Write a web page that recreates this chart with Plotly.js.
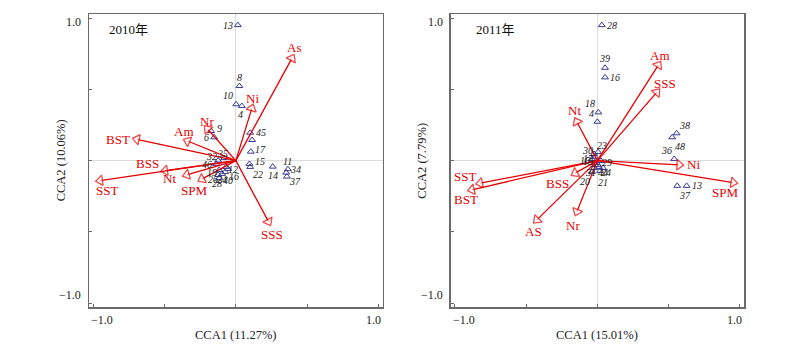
<!DOCTYPE html>
<html><head><meta charset="utf-8">
<script src="https://cdn.plot.ly/plotly-3.0.1.min.js"></script>
<style>html,body{margin:0;padding:0;background:#fff}</style>
</head><body><div id="chart" style="width:800px;height:348px"></div>
<script>
// ---------- DATA ----------
// 2010 environmental vectors (CCA1, CCA2)
const env2010Names = ['As','Ni','Nr','Am','BST','BSS','Nt','SPM','SST','SSS'];
const env2010X = [0.393, 0.112, -0.199, -0.339, -0.694, -0.496, -0.344, -0.238, -0.952, 0.229];
const env2010Y = [0.718, 0.367, 0.222, 0.138, 0.150, -0.070, -0.100, -0.130, -0.140, -0.428];
// 2010 sites
const site2010Names = ['13','8','10','4','9','6','45','','17','15','22','14','11','34','37','32','35','46','19','12','26','24','40','16','28'];
const site2010X = [0.014, 0.025, 0.002, 0.042, -0.173, -0.152, 0.100, 0.114, 0.105, 0.095, 0.100, 0.259, 0.365, 0.353, 0.358, -0.124, -0.082, -0.138, -0.117, -0.068, -0.124, -0.096, -0.075, -0.054, -0.117];
const site2010Y = [0.952, 0.524, 0.396, 0.384, 0.208, 0.164, 0.196, 0.145, 0.063, -0.023, -0.044, -0.042, -0.060, -0.084, -0.112, 0.001, 0.019, -0.023, -0.065, -0.044, -0.100, -0.093, -0.079, -0.058, -0.121];
// 2011 environmental vectors
const env2011Names = ['Am','SSS','Nt','Ni','SPM','SST','BST','BSS','AS','Nr'];
const env2011X = [0.428, 0.417, -0.144, 0.575, 0.954, -0.823, -0.881, -0.156, -0.425, -0.144];
const env2011Y = [0.671, 0.480, 0.273, -0.030, -0.154, -0.158, -0.205, -0.088, -0.416, -0.358];
// 2011 sites
const site2011Names = ['28','39','16','18','4','38','48','36','13','37','23','30','29','20','21','31','44','24','15','17','19','5'];
const site2011X = [0.031, 0.054, 0.054, 0.007, 0.000, 0.557, 0.526, 0.540, 0.627, 0.561, 0.005, -0.023, 0.026, -0.037, 0.019, -0.023, 0.012, 0.040, -0.037, -0.016, -0.016, 0.005];
const site2011Y = [0.952, 0.652, 0.585, 0.339, 0.273, 0.192, 0.164, 0.012, -0.177, -0.177, 0.061, 0.047, -0.002, -0.079, -0.072, -0.051, -0.044, -0.051, 0.012, 0.026, -0.016, -0.030];
// text
const panelTitles = ['2010年', '2011年'];
const xTitles = ['CCA1 (11.27%)', 'CCA1 (15.01%)'];
const yTitles = ['CCA2 (10.06%)', 'CCA2 (7.79%)'];
const tickText = ['\u22121.0', '1.0'];

// ---------- STYLE (label offsets in px: [dx, dy down]) ----------
const envShift2010 = [[2,-11],[1,-10],[0,-8],[-4,-10],[-19,0],[-18,-7],[-17,4],[-8,11],[7,10],[3,13]];
const envShift2011 = [[2,-10],[8,-9],[-2,-11],[14,0],[-8,10],[-15,-7],[-6,10],[-18,10],[-3,12],[-4,14]];
const siteShift2010 = [[-10,0],[0,-9],[-8,-9],[-1,9],[8,-3],[-8,0],[11,0],[0,0],[10,-2],[11,-2],[8,8],[0,9],[0,-8],[9,-3],[8,5],[-7,-4],[-2,-4],[-9,1],[-7,3],[7,3],[-5,5],[0,6],[3,9],[6,8],[-2,6]];
const siteShift2011 = [[10,0],[-1,-9],[10,0],[-8,-9],[-6,-8],[8,-8],[8,9],[-8,-8],[10,0],[8,10],[4,-6],[-7,-3],[6,2],[-7,10],[3,12],[-4,5],[4,6],[3,5],[-7,2],[-7,2],[-7,-1],[-6,5]];

const RED = '#e60000';
const NAVY = '#3a3a96';
const SERIF = 'Liberation Serif, Times New Roman, serif';
const CJK = 'Liberation Serif, Noto Sans CJK SC, serif';

const traces = [];
const annotations = [];

function addPanel(xa, ya, sNames, sX, sY, sShift, eNames, eX, eY, eShift) {
  traces.push({
    type: 'scatter', mode: 'markers', x: sX, y: sY, xaxis: xa, yaxis: ya,
    marker: {symbol: 'triangle-up-open', size: 6, color: NAVY, line: {width: 1, color: NAVY}},
    hoverinfo: 'skip'
  });
  sNames.forEach((n, i) => {
    if (!n) return;
    annotations.push({xref: xa, yref: ya, x: sX[i], y: sY[i], text: '<i>' + n + '</i>', showarrow: false,
      xshift: sShift[i][0], yshift: -sShift[i][1],
      font: {family: SERIF, size: 10, color: '#222'}, xanchor: 'center', yanchor: 'middle'});
  });
  eNames.forEach((n, i) => {
    traces.push({
      type: 'scatter', mode: 'lines+markers', x: [0, eX[i]], y: [0, eY[i]], xaxis: xa, yaxis: ya,
      line: {color: RED, width: 1.3},
      marker: {symbol: 'triangle-up', size: [0, 9], color: 'white', angleref: 'previous',
               line: {color: RED, width: 1.3}},
      hoverinfo: 'skip'
    });
    annotations.push({xref: xa, yref: ya, x: eX[i], y: eY[i], text: n, showarrow: false,
      xshift: eShift[i][0], yshift: -eShift[i][1],
      font: {family: SERIF, size: 13, color: RED}, xanchor: 'center', yanchor: 'middle'});
  });
}

addPanel('x', 'y', site2010Names, site2010X, site2010Y, siteShift2010, env2010Names, env2010X, env2010Y, envShift2010);
addPanel('x2', 'y2', site2011Names, site2011X, site2011Y, siteShift2011, env2011Names, env2011X, env2011Y, envShift2011);

const RANGE = [-1.03, 1.03];
const W = 800, H = 348;
const px = v => v / W, py = v => (H - v) / H;
const panels = [
  {xa: 'x', ya: 'y', left: 89, right: 382.7, titleX: 106.7, yTitleX: 60.7},
  {xa: 'x2', ya: 'y2', left: 450.7, right: 744, titleX: 474.3, yTitleX: 422}
];
const TOPPX = 14, BOTPX = 307.3;

function axis(domain, anchor) {
  return {domain: domain, anchor: anchor, range: RANGE, showgrid: false,
    zeroline: true, zerolinecolor: '#dcdcdc', zerolinewidth: 1,
    showline: true, mirror: true, linecolor: '#6a6a6a', linewidth: 1.5,
    ticks: 'inside', ticklen: 3, tickcolor: '#6a6a6a', tick0: 0, dtick: 0.5,
    showticklabels: false, fixedrange: true};
}

panels.forEach((p, k) => {
  const tf = {family: SERIF, size: 12, color: '#222'};
  annotations.push({xref: 'paper', yref: 'paper', x: px(p.left), y: py(320), text: tickText[0], showarrow: false, xanchor: 'left', yanchor: 'middle', font: tf});
  annotations.push({xref: 'paper', yref: 'paper', x: px(p.right), y: py(320), text: tickText[1], showarrow: false, xanchor: 'right', yanchor: 'middle', font: tf});
  annotations.push({xref: 'paper', yref: 'paper', x: px(p.left - 6), y: py(21.7), text: tickText[1], showarrow: false, xanchor: 'right', yanchor: 'middle', font: tf});
  annotations.push({xref: 'paper', yref: 'paper', x: px(p.left - 6), y: py(295), text: tickText[0], showarrow: false, xanchor: 'right', yanchor: 'middle', font: tf});
  annotations.push({xref: 'paper', yref: 'paper', x: px((p.left + p.right) / 2), y: py(335), text: xTitles[k], showarrow: false, xanchor: 'center', yanchor: 'middle', font: {family: SERIF, size: 12.5, color: '#222'}});
  annotations.push({xref: 'paper', yref: 'paper', x: px(p.yTitleX), y: py((TOPPX + BOTPX) / 2), text: yTitles[k], showarrow: false, textangle: -90, xanchor: 'center', yanchor: 'middle', font: {family: SERIF, size: 12.5, color: '#222'}});
  annotations.push({xref: 'paper', yref: 'paper', x: px(p.titleX), y: py(29.5), text: panelTitles[k], showarrow: false, xanchor: 'left', yanchor: 'middle', font: {family: CJK, size: 13, color: '#111'}});
});

const layout = {
  width: W, height: H, margin: {l: 0, r: 0, t: 0, b: 0},
  paper_bgcolor: '#fff', plot_bgcolor: '#fff', showlegend: false,
  xaxis: axis([px(panels[0].left), px(panels[0].right)], 'y'),
  yaxis: axis([py(BOTPX), py(TOPPX)], 'x'),
  xaxis2: axis([px(panels[1].left), px(panels[1].right)], 'y2'),
  yaxis2: axis([py(BOTPX), py(TOPPX)], 'x2'),
  annotations: annotations
};

Plotly.newPlot('chart', traces, layout, {staticPlot: true, displayModeBar: false});
</script>
</body></html>
